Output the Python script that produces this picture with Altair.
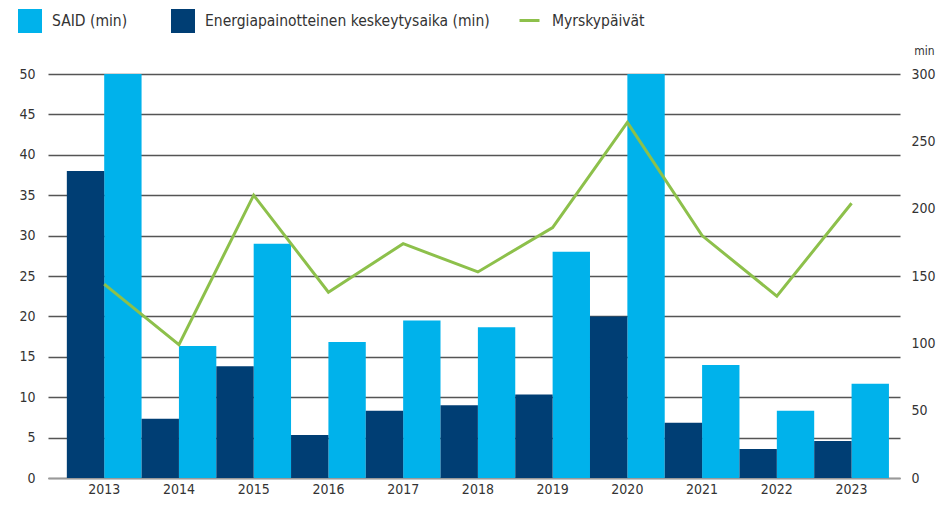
import altair as alt
import pandas as pd

years = ["2013", "2014", "2015", "2016", "2017", "2018", "2019", "2020", "2021", "2022", "2023"]
said = [340, 98, 174, 101, 117, 112, 168, 330, 84, 50, 70]
energia = [228, 44, 83, 32, 50, 54, 62, 120, 41, 21.5, 27.5]
myrsky = [24, 16.5, 35, 23, 29, 25.5, 31, 44, 30, 22.5, 34]

S_SAID = "SAID (min)"
S_EN = "Energiapainotteinen keskeytysaika (min)"
S_MY = "Myrskypäivät"

LIGHT = "#00B2EB"
DARK = "#003E74"
GREEN = "#8DC04B"
TXT = "#333333"
FONT = "DejaVu Sans Condensed, DejaVu Sans, sans-serif"

bars_df = pd.DataFrame(
    [{"year": y, "series": S_SAID, "value": v} for y, v in zip(years, said)]
    + [{"year": y, "series": S_EN, "value": v} for y, v in zip(years, energia)]
)
line_df = pd.DataFrame({"year": years, "value": myrsky, "series": [S_MY] * len(years)})

xscale = alt.Scale(paddingInner=0, paddingOuter=0.2, align=0.63)
xaxis = alt.Axis(title=None, labelFontSize=14, labelColor=TXT, labelPadding=4,
                 ticks=False, domain=True, domainColor="#999", domainWidth=1.5,
                 labelFont=FONT, labelAngle=0, grid=False)

bars = alt.Chart(bars_df).mark_bar(clip=True).encode(
    x=alt.X("year:N", scale=xscale, axis=xaxis, sort=years),
    xOffset=alt.XOffset("series:N", sort=[S_EN, S_SAID],
                        scale=alt.Scale(paddingInner=0, paddingOuter=0)),
    y=alt.Y("value:Q", scale=alt.Scale(domain=[0, 300], nice=False, zero=True),
            axis=alt.Axis(orient="right", values=[0, 50, 100, 150, 200, 250, 300],
                          grid=False, ticks=False, tickSize=0, domain=False,
                          labelPadding=11, labelFontSize=14, labelColor=TXT,
                          labelFont=FONT, title="min", titleAngle=0, titleX=24,
                          titleY=-24, titleAlign="center", titleBaseline="middle",
                          titleFontSize=12, titleFontWeight="normal",
                          titleColor=TXT, titleFont=FONT)),
    color=alt.Color("series:N", scale=alt.Scale(domain=[S_SAID, S_EN], range=[LIGHT, DARK]),
                    legend=alt.Legend(title=None, orient="none", legendX=-30, legendY=-65,
                                      direction="horizontal", symbolType="square",
                                      symbolSize=576, symbolStrokeWidth=0,
                                      labelFontSize=15.5, labelFont=FONT, labelColor=TXT,
                                      labelOffset=10, columnPadding=43, labelLimit=400)),
)

line = alt.Chart(line_df).mark_line(strokeWidth=3).encode(
    x=alt.X("year:N", scale=xscale, axis=xaxis, sort=years),
    y=alt.Y("value:Q", scale=alt.Scale(domain=[0, 50], nice=False, zero=True),
            axis=alt.Axis(orient="left", values=list(range(0, 55, 5)), grid=True,
                          gridColor="#555", gridWidth=1.3, ticks=False, tickSize=0,
                          domain=False, labelPadding=13, labelFontSize=14,
                          labelColor=TXT, labelFont=FONT, title=None)),
    stroke=alt.Stroke("series:N", scale=alt.Scale(domain=[S_MY], range=[GREEN]),
                      legend=alt.Legend(title=None, orient="none", legendX=470, legendY=-65,
                                        symbolType="stroke", symbolSize=400,
                                        symbolStrokeWidth=3, labelFontSize=15.5,
                                        labelFont=FONT, labelColor=TXT, labelOffset=11)),
)

chart = alt.layer(bars, line).resolve_scale(y="independent", color="independent").properties(
    width=852, height=404,
    autosize=alt.AutoSizeParams(type="none"),
    padding={"left": 40, "top": 66, "right": 37, "bottom": 20},
).configure_view(stroke=None)

chart.save("out.html", embed_options={"renderer": "svg", "actions": False})
